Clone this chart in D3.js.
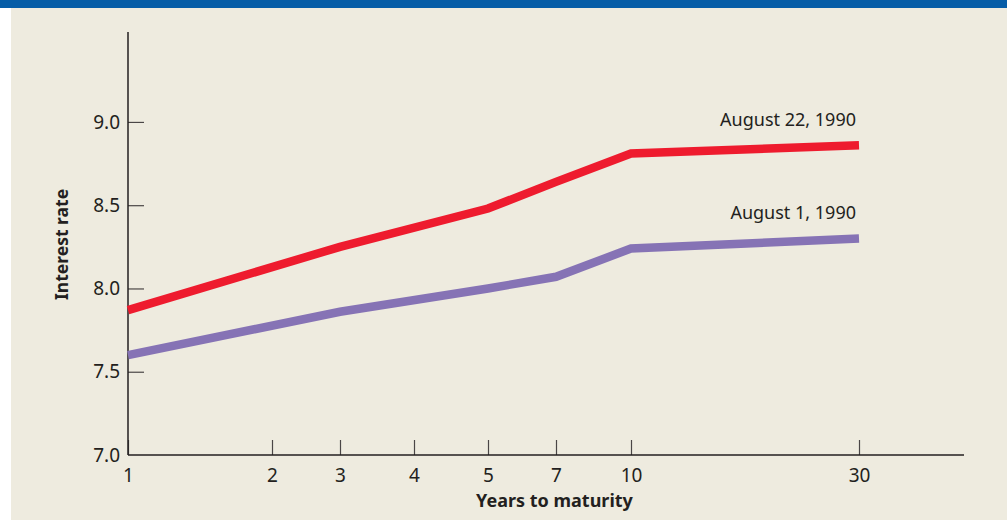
<!DOCTYPE html>
<html>
<head>
<meta charset="utf-8">
<script src="https://cdn.jsdelivr.net/npm/d3@7/dist/d3.min.js"></script>
<style>
  html, body { margin: 0; padding: 0; background: #ffffff; }
  svg { display: block; }
  .tick text { font-family: "Noto Sans", "Liberation Sans", sans-serif; font-size: 19px; fill: #231f20; }
</style>
</head>
<body>
<svg id="chart" width="1007" height="520"></svg>
<script>
// Yield curves: Treasury interest rates by years to maturity
const maturities = [1, 2, 3, 4, 5, 7, 10, 30];
const tickLabels = ["1", "2", "3", "4", "5", "7", "10", "30"];
const rateTicks = [7.0, 7.5, 8.0, 8.5, 9.0];

const curveMaturities = [1, 3, 5, 7, 10, 30];
const aug22 = [7.87, 8.25, 8.48, 8.64, 8.81, 8.86];
const aug1 = [7.60, 7.86, 8.00, 8.07, 8.24, 8.30];

const seriesNames = ["August 22, 1990", "August 1, 1990"];
const seriesColors = ["#ee1b2e", "#8673b5"];

const svg = d3.select("#chart");
const W = 1007, H = 520;

// page frame: white margin, beige panel, blue top rule
svg.append("rect").attr("x", 11).attr("y", 0).attr("width", W - 11).attr("height", H).attr("fill", "#eeebdf");
svg.append("rect").attr("x", 0).attr("y", 0).attr("width", W).attr("height", 8).attr("fill", "#065da7");

const plotLeft = 128, plotRight = 964, plotBottom = 455, plotTop = 32;

// maturities are spaced on a custom (non-linear) axis
const x = d3.scaleLinear()
  .domain(maturities)
  .range([128, 272, 340, 414, 488, 556, 631, 859]);

const y = d3.scaleLinear()
  .domain([7.0, 9.54])
  .range([plotBottom, plotTop]);

const g = svg.append("g");

// x axis: ticks pointing up into the plot
const xAxis = d3.axisBottom(x)
  .tickValues(maturities)
  .tickFormat((d, i) => tickLabels[i])
  .tickSizeInner(-15)
  .tickSizeOuter(0)
  .tickPadding(14);
const xg = g.append("g").attr("transform", `translate(0,${plotBottom})`).call(xAxis);
xg.select(".domain").remove();
xg.selectAll(".tick line").attr("stroke", "#4a4646").attr("stroke-width", 1.2);

// y axis: ticks pointing right into the plot
const yAxis = d3.axisLeft(y)
  .tickValues(rateTicks)
  .tickFormat(d3.format(".1f"))
  .tickSizeInner(-16)
  .tickSizeOuter(0)
  .tickPadding(8);
const yg = g.append("g").attr("transform", `translate(${plotLeft},0)`).call(yAxis);
yg.select(".domain").remove();
yg.selectAll(".tick line").attr("stroke", "#4a4646").attr("stroke-width", 1.2)
  .filter(d => d === 7.0).remove();

// axis lines
g.append("line").attr("x1", plotLeft).attr("x2", plotLeft).attr("y1", plotTop).attr("y2", plotBottom)
  .attr("stroke", "#231f20").attr("stroke-width", 1.5);
g.append("line").attr("x1", plotLeft).attr("x2", plotRight).attr("y1", plotBottom).attr("y2", plotBottom)
  .attr("stroke", "#231f20").attr("stroke-width", 1.5);

// axis titles
svg.append("text")
  .attr("x", (x(1) + x(30)) / 2 + 61).attr("y", 507)
  .attr("text-anchor", "middle")
  .attr("font-family", "'Noto Sans', 'Liberation Sans', sans-serif")
  .attr("font-weight", "bold").attr("font-size", 18).attr("fill", "#231f20")
  .text("Years to maturity");

svg.append("text")
  .attr("transform", `translate(68,${(y(7.5) + y(8.5)) / 2 - 44}) rotate(-90)`)
  .attr("text-anchor", "middle")
  .attr("font-family", "'Noto Sans', 'Liberation Sans', sans-serif")
  .attr("font-weight", "bold").attr("font-size", 17.5).attr("fill", "#231f20")
  .text("Interest rate");

// curves
const line = d3.line()
  .x((d, i) => x(curveMaturities[i]))
  .y(d => y(d));

[aug22, aug1].forEach((vals, k) => {
  g.append("path")
    .datum(vals)
    .attr("d", line)
    .attr("fill", "none")
    .attr("stroke", seriesColors[k])
    .attr("stroke-width", 8.5)
    .attr("stroke-linejoin", "miter")
    .attr("stroke-linecap", "butt");

  const last = vals[vals.length - 1];
  g.append("text")
    .attr("x", x(30) - 3)
    .attr("y", y(last) - 19.5)
    .attr("text-anchor", "end")
    .attr("font-family", "'Noto Sans', 'Liberation Sans', sans-serif")
    .attr("font-size", 18).attr("fill", "#231f20")
    .text(seriesNames[k]);
});
</script>
</body>
</html>
